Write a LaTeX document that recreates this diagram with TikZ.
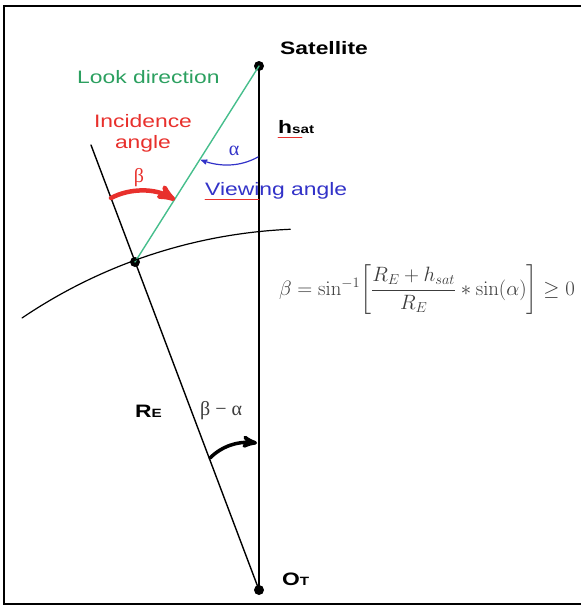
\documentclass[tikz,border=0pt]{standalone}
\usepackage[no-math]{fontspec}
\setmainfont{Liberation Sans}[FakeStretch=1.27]
\newfontfamily\grkfont{Liberation Serif}
\usepackage{amsmath}
\usetikzlibrary{arrows,calc}
\definecolor{lookgreen}{RGB}{44,160,96}
\definecolor{lineteal}{RGB}{70,190,140}
\definecolor{incred}{RGB}{232,48,44}
\definecolor{viewblue}{RGB}{50,50,200}
\definecolor{formgray}{RGB}{60,60,60}

\tikzset{
  dot/.style={circle,fill=black,inner sep=0pt,minimum size=10pt},
  lbl/.style={inner sep=0pt,font=\fontsize{18}{22}\selectfont},
  blbl/.style={lbl,font=\fontsize{18}{22}\selectfont\bfseries},
  glbl/.style={inner sep=0pt,font=\fontsize{20}{24}\selectfont\grkfont}
}
\newcommand{\smallsub}[1]{{\fontsize{12}{14}\selectfont #1}}

\begin{document}
\begin{tikzpicture}[x=1pt,y=-1pt,>=stealth',line cap=round]
		\useasboundingbox (0,0) rectangle (581,608);
		% frame (open on the right)
		\draw[line width=2.5pt,line cap=butt] (581,6) -- (4,6) -- (4,604) -- (581,604);
		
		\node[dot] (sat) at (259,66) {};
		\node[dot] (ot) at (259,590) {};
		\node[dot] (pt) at (135,262) {};
		\coordinate (radtop) at (91,145);
		\coordinate (arcl) at (22,318);
		
		% lines
		\draw[line width=2.5pt] (sat.center) -- (ot.center);
		\draw[line width=1.4pt] (ot.center) -- (radtop);
		\draw[lineteal,line width=1.4pt] (pt.center) -- (sat.center);
		% earth surface
		\draw[line width=1.2pt] (arcl) arc[start angle=-124.1,end angle=-92.5,radius=519];
		
		% angle arrows
		\coordinate (a1) at (258,157);
		\coordinate (a2) at (201,160);
		\draw[->,viewblue,line width=1.2pt] (a1) .. controls (240,167) and (220,167) .. (a2);
		\coordinate (b1) at (111,198);
		\coordinate (b2) at (175,200);
		\draw[->,incred,line width=4.5pt] (b1) .. controls (130,188) and (155,188) .. (b2);
		\coordinate (c1) at (210,458);
		\coordinate (c2) at (257,443);
		\draw[->,line width=3.5pt] (c1) .. controls (222,446) and (238,441) .. (c2);
		
		% labels
		\node[blbl,anchor=base west] (satlbl) at (280,54) {Satellite};
		\node[lbl,lookgreen,anchor=base west] (look) at (77,83) {Look direction};
		\node[lbl,incred,anchor=base] (inc1) at (143,127) {Incidence};
		\node[lbl,incred,anchor=base] (inc2) at (143,148) {angle};
		\node[blbl,anchor=base west] (hsat) at (278,133) {h\smallsub{sat}};
		\draw[incred,line width=0.8pt] (hsat.base west) ++(0,4) -- ++(24,0);
		\node[glbl,viewblue] (alpha) at (234,151) {α};
		\node[lbl,viewblue,anchor=base west] (view) at (205,195) {Viewing angle};
		\draw[incred,line width=0.8pt] (view.base west) ++(0,4) -- ++(54,0);
		\node[glbl,incred] (beta) at (139,178) {β};
		\node[blbl,anchor=base west] (re) at (135,417) {R\smallsub{E}};
		\node[glbl,formgray,anchor=base west] (diff) at (200,415) {β − α};
		\node[blbl,anchor=base west] (otlbl) at (282,585) {O\smallsub{T}};
		\node[lbl,formgray,font=\fontsize{19.5}{22}\selectfont] (formula) at (427,290)
			{$\beta=\sin^{-1}\!\left[\dfrac{R_E+h_{sat}}{R_E}\ast\sin(\alpha)\right]\geq 0$};
\end{tikzpicture}
\end{document}
